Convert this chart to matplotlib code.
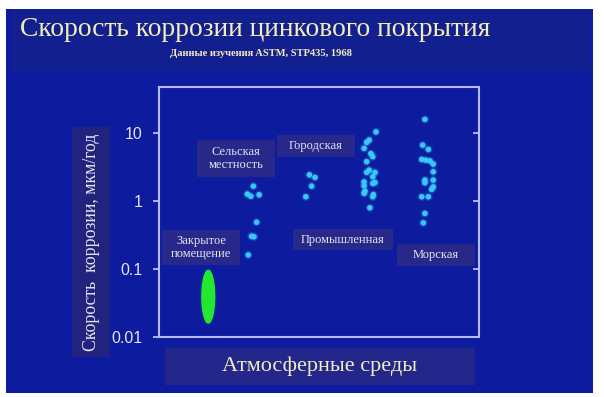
import numpy as np
import matplotlib
matplotlib.use("Agg")
import matplotlib.pyplot as plt
from matplotlib.patches import Rectangle
from matplotlib.ticker import FixedLocator, NullLocator, FixedFormatter

# ---- data ----
title = "Скорость коррозии цинкового покрытия"
subtitle = "Данные изучения ASTM, STP435, 1968"
ylabel = "Скорость  коррозии, мкм/год"
xlabel = "Атмосферные среды"
yticks = [0.01, 0.1, 1, 10]
ytick_labels = ["0.01", "0.1", "1", "10"]

# indoor: shown as a filled ellipse (range of values)
indoor_x = 1.54
indoor_halfwidth = 0.2
indoor_range = [0.0162, 0.0966]

rural_x = [2.95, 2.76, 2.87, 3.13, 3.05, 2.89, 2.97, 2.79]
rural_y = [1.66, 1.27, 1.18, 1.24, 0.49, 0.305, 0.30, 0.162]

urban_x = [4.70, 4.875, 4.77, 4.59]
urban_y = [2.44, 2.23, 1.66, 1.16]

industrial_x = [6.78, 6.57, 6.49, 6.41, 6.62, 6.68, 6.49, 6.57, 6.49, 6.75,
                6.68, 6.41, 6.75, 6.68, 6.41, 6.44, 6.41, 6.70, 6.68, 6.59]
industrial_y = [10.4, 7.9, 7.3, 5.96, 5.0, 4.5, 3.8, 2.86, 2.64, 2.64,
                2.28, 1.92, 1.88, 1.82, 1.68, 1.40, 1.30, 1.25, 1.16, 0.80]

marine_x = [8.31, 8.24, 8.42, 8.21, 8.34, 8.47, 8.57, 8.57, 8.31, 8.31,
            8.57, 8.57, 8.52, 8.21, 8.42, 8.31, 8.26]
marine_y = [15.9, 6.66, 5.76, 4.1, 4.0, 3.9, 3.5, 2.70, 2.04, 1.86,
            2.04, 1.62, 1.49, 1.16, 1.16, 0.66, 0.48]

# (label, box left, top, right, bottom in px)
labels = [
    ("Сельская\nместность", 197, 140, 275, 177),
    ("Городская", 277, 135, 355, 157),
    ("Закрытое\nпомещение", 162, 230, 240, 265),
    ("Промышленная", 293, 229, 393, 250),
    ("Морская", 397, 244, 475, 266),
]

# ---- styling ----
W, H = 604, 397
PANEL = "#0d1c9e"
BAND = "#121f8e"
BOX = "#27288a"
CREAM = "#f3ecbf"
LIGHT = "#e4e4ee"
SPINE = "#b4bcff"
DOT = "#38c8ff"
GREEN = "#22e830"

fig = plt.figure(figsize=(W / 100, H / 100), dpi=100)
fig.patch.set_facecolor("white")

def fx(x):
    return x / W

def fy(y):
    return 1 - y / H

def rect(x0, y0, x1, y1, color, z=0):
    r = Rectangle((fx(x0), fy(y1)), (x1 - x0) / W, (y1 - y0) / H,
                  transform=fig.transFigure, facecolor=color, edgecolor="none",
                  zorder=z)
    fig.add_artist(r)

rect(6, 9, 593, 393, PANEL, z=-10)
rect(11, 9, 590, 71, BAND, z=-9)

fig.text(fx(255), fy(30), title, ha="center", va="center", color=CREAM,
         fontsize=19.8, family="Liberation Serif")
fig.text(fx(261), fy(54), subtitle, ha="center", va="center", color=CREAM,
         fontsize=7.6, family="Liberation Serif", weight="bold")

# y label box
rect(72, 127, 110, 357, "#21237f", z=-5)
fig.text(fx(91), fy(242), ylabel, rotation=90, ha="center", va="center",
         color=LIGHT, fontsize=12.8, family="Liberation Serif")
# x label box
rect(165, 348, 475, 385, "#23268a", z=-5)
fig.text(fx(320), fy(366), xlabel, ha="center", va="center", color=CREAM,
         fontsize=16, family="Liberation Serif")

for txt, x0, y0, x1, y1 in labels:
    rect(x0, y0, x1, y1, BOX, z=-5)
    fig.text(fx((x0 + x1) / 2), fy((y0 + y1) / 2), txt, ha="center",
             va="center", color=LIGHT, fontsize=9, family="Liberation Serif",
             linespacing=1.15)

ax = fig.add_axes([fx(159), fy(337.3), (479 - 159) / W, (337.3 - 86.7) / H])
ax.patch.set_alpha(0)
ax.set_yscale("log")
ax.set_ylim(0.01, 48)
ax.set_xlim(0, 10)
ax.set_xticks([])
ax.yaxis.set_major_locator(FixedLocator(yticks))
ax.yaxis.set_major_formatter(FixedFormatter(ytick_labels))
ax.yaxis.set_minor_locator(NullLocator())
ax.tick_params(axis="y", which="major", direction="out", length=4, width=1.3,
               color=SPINE, labelcolor=LIGHT, labelsize=11.5, pad=8)
for lab in ax.get_yticklabels():
    lab.set_family("Liberation Sans")
for s in ax.spines.values():
    s.set_color(SPINE)
    s.set_linewidth(1.5)

ax2 = ax.twinx()
ax2.set_yscale("log")
ax2.set_ylim(ax.get_ylim())
ax2.yaxis.set_major_locator(FixedLocator(yticks[1:]))
ax2.yaxis.set_minor_locator(NullLocator())
ax2.tick_params(axis="y", which="major", direction="in", length=4, width=1.3,
                color=SPINE, labelright=False)
for s in ax2.spines.values():
    s.set_visible(False)

# indoor ellipse in log space
t = np.linspace(0, 2 * np.pi, 200)
lo, hi = np.log10(indoor_range[0]), np.log10(indoor_range[1])
ex = indoor_x + indoor_halfwidth * np.cos(t)
ey = 10 ** ((lo + hi) / 2 + (hi - lo) / 2 * np.sin(t))
ax.fill(ex, ey, color=GREEN, zorder=3)

for xs, ys in [(rural_x, rural_y), (urban_x, urban_y),
               (industrial_x, industrial_y), (marine_x, marine_y)]:
    ax.scatter(xs, ys, s=36, color=DOT, alpha=0.22, edgecolors="none", zorder=3)
    ax.scatter(xs, ys, s=16, color=DOT, edgecolors="none", zorder=4)

fig.savefig("out.png", dpi=100)
